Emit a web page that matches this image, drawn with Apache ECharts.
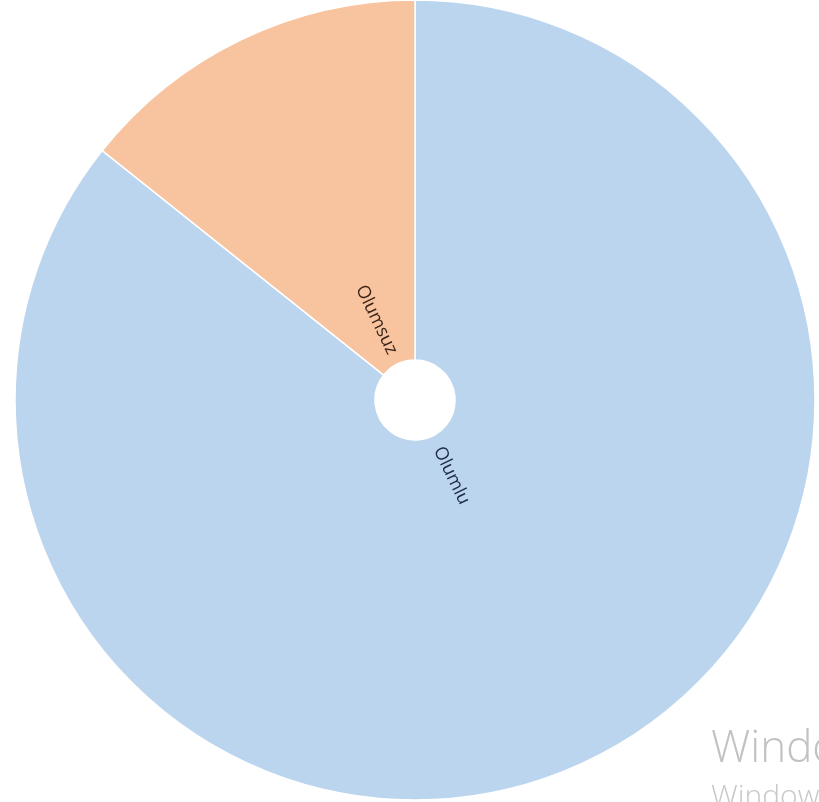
<!DOCTYPE html>
<html>
<head>
<meta charset="utf-8">
<script src="https://cdn.jsdelivr.net/npm/echarts@6/dist/echarts.min.js"></script>
<style>
  html, body { margin: 0; padding: 0; background: #ffffff; }
  #chart { width: 819px; height: 802px; }
</style>
</head>
<body>
<div id="chart"></div>
<script>
// Response categories and their counts
const categories = ['Olumlu', 'Olumsuz'];
const counts = [6, 1];
const sliceColors = ['#bcd5ee', '#f8c4a0'];
const labelColors = ['#1c2a44', '#3a2418'];
// extra trailing space so each label sits against the hole
const labelPadding = [[0, 10, 0, 0], [0, 0, 0, 0]];

const pieData = categories.map((name, i) => ({
  name: name,
  value: counts[i],
  itemStyle: { color: sliceColors[i] }
}));

const chart = echarts.init(document.getElementById('chart'), null, { renderer: 'canvas' });

chart.setOption({
  backgroundColor: '#ffffff',
  animation: false,
  series: [
    {
      // main ring
      type: 'pie',
      center: [415, 400],
      radius: [40, 400],
      startAngle: 90,
      clockwise: true,
      silent: true,
      label: { show: false },
      labelLine: { show: false },
      itemStyle: { borderColor: '#ffffff', borderWidth: 1.5 },
      data: pieData
    },
    {
      // radial labels close to the hole
      type: 'pie',
      center: [415, 400],
      radius: [40, 132],
      startAngle: 90,
      clockwise: true,
      silent: true,
      itemStyle: { color: 'rgba(0,0,0,0)', borderWidth: 0 },
      label: {
        show: true,
        position: 'inside',
        rotate: 'radial',
        fontFamily: 'Open Sans',
        fontSize: 18,
        formatter: '{b}'
      },
      labelLine: { show: false },
      data: categories.map((name, i) => ({
        name: name,
        value: counts[i],
        label: { color: labelColors[i], padding: labelPadding[i] }
      }))
    }
  ],
  graphic: [
    {
      type: 'text',
      left: 711,
      top: 727,
      style: {
        text: "Windows'u Etkinleştir",
        fill: '#c2c2c2',
        font: '300 44px "Open Sans"'
      }
    },
    {
      type: 'text',
      left: 711,
      top: 782,
      style: {
        text: "Windows'u etkinleştirmek için Ayarlar'a gidin.",
        fill: '#c8c8c8',
        font: '300 30px "Open Sans"'
      }
    }
  ]
});
</script>
</body>
</html>
